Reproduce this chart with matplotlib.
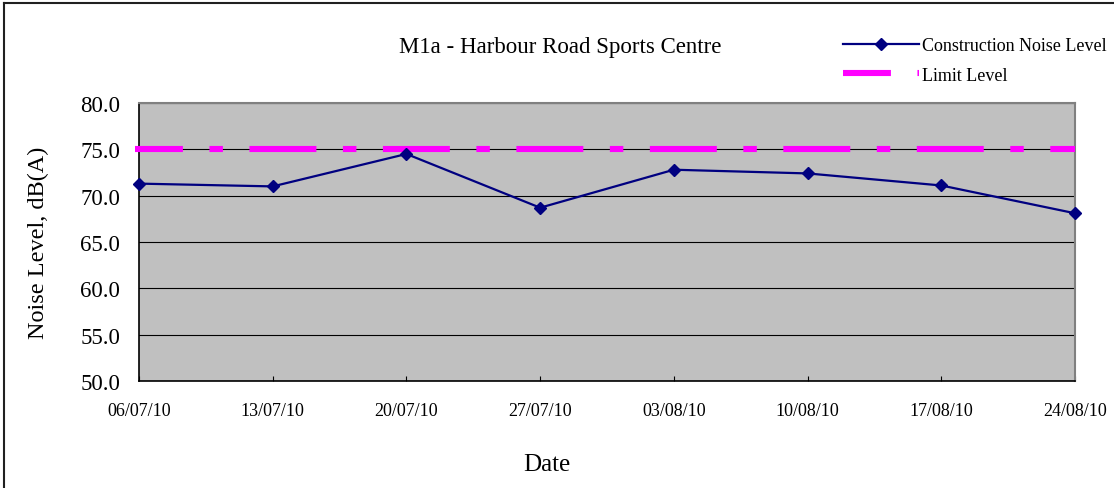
import matplotlib
matplotlib.use('Agg')
import matplotlib.pyplot as plt
from matplotlib.lines import Line2D

# ---- data ----
dates = ["06/07/10", "13/07/10", "20/07/10", "27/07/10",
         "03/08/10", "10/08/10", "17/08/10", "24/08/10"]
noise = [71.3, 71.0, 74.5, 68.7, 72.8, 72.4, 71.1, 68.1]
limit = 75.0
yticks = [50, 55, 60, 65, 70, 75, 80]
title = "M1a - Harbour Road Sports Centre"
series_labels = ["Construction Noise Level", "Limit Level"]

plt.rcParams['font.family'] = ['Liberation Serif', 'DejaVu Serif']
plt.rcParams['lines.scale_dashes'] = False

W, H = 1114, 489
fig = plt.figure(figsize=(W / 100, H / 100), dpi=100)
L, R, T, B = 139, 1075, 104, 382
ax = fig.add_axes([L / W, 1 - B / H, (R - L) / W, (B - T) / H])
ax.set_facecolor('#c0c0c0')

x = list(range(len(dates)))
ax.set_xlim(x[0], x[-1])
ax.set_ylim(yticks[0], yticks[-1])
ax.set_yticks(yticks)
ax.set_yticklabels([f"{v:.1f}" for v in yticks])
ax.set_xticks(x)
ax.set_xticklabels(dates)
ax.grid(axis='y', color='black', lw=0.8)
ax.set_axisbelow(True)

ax.tick_params(axis='y', length=0, pad=13.5, labelsize=16.5, colors='#000000')
ax.tick_params(axis='x', direction='in', length=3.6, width=0.8, pad=15,
               labelsize=13, colors='#000000')

for s in ['left', 'bottom']:
    ax.spines[s].set_color('black')
    ax.spines[s].set_linewidth(1.2)
for s in ['top', 'right']:
    ax.spines[s].set_color('#808080')
    ax.spines[s].set_linewidth(1.5)

# limit line (dash-dot, magenta)
lim_line = ax.axhline(limit, xmin=-0.0045, xmax=1, color='#ff00ff', lw=4.4,
                      clip_on=False, zorder=3,
                      linestyle=(13.7, (48.2, 19.1, 9.7, 19.1)),
                      dash_capstyle='butt')

# noise series
noise_line, = ax.plot(x, noise, color='#000080', lw=1.6, marker='D', ms=6.6,
                      markerfacecolor='#000080', markeredgecolor='#000080',
                      zorder=4, clip_on=False)

fig.legend([noise_line, lim_line], series_labels, loc='upper left',
           bbox_to_anchor=(843 / W, 1 - 38 / H), bbox_transform=fig.transFigure,
           frameon=False, fontsize=13, handlelength=4.2, handletextpad=0.15,
           labelspacing=0.7, borderpad=0, borderaxespad=0)

fig.text(560 / W, 1 - 47 / H, title, ha='center', va='center', fontsize=16.5)
fig.text(547 / W, 1 - 465 / H, "Date", ha='center', va='center', fontsize=18)
fig.text(38 / W, 1 - 243 / H, "Noise Level, dB(A)", ha='center', va='center',
         rotation=90, fontsize=17.5)

# outer chart border (left and top visible)
fig.add_artist(Line2D([4 / W, 4 / W], [0, 1 - 4 / H], transform=fig.transFigure,
                      color='#202020', lw=1.5))
fig.add_artist(Line2D([4 / W, 1], [1 - 4 / H, 1 - 4 / H], transform=fig.transFigure,
                      color='#202020', lw=1.5))

fig.savefig('out.png', dpi=100)
